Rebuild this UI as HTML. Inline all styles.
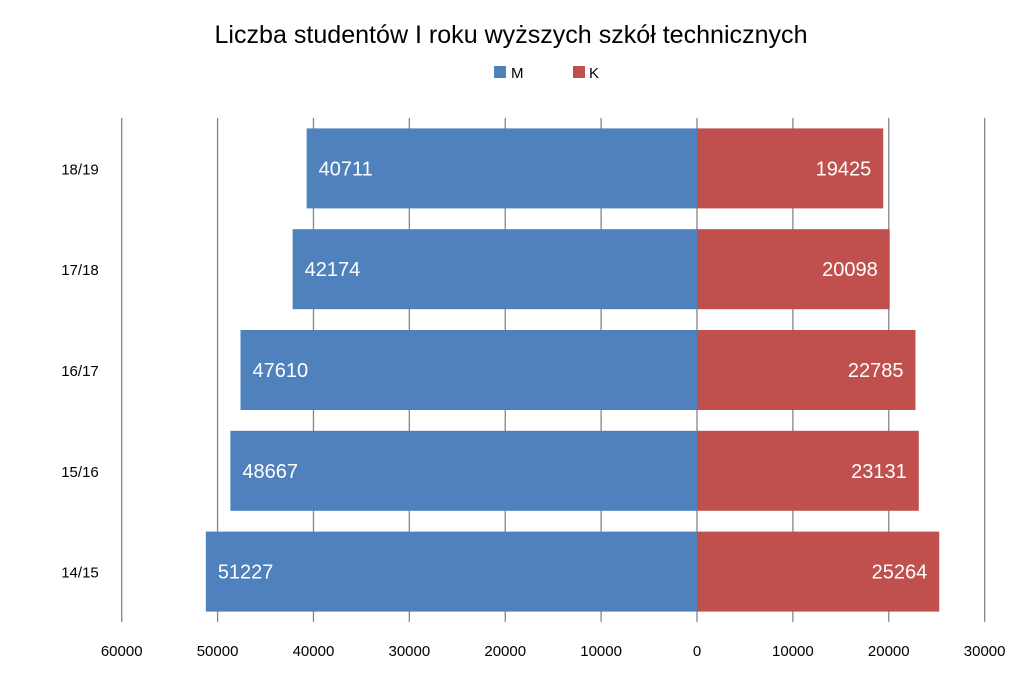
<!DOCTYPE html>
<html><head><meta charset="utf-8"><style>
body{margin:0;background:#fff;font-family:"Liberation Sans",Calibri,sans-serif}
</style></head><body>
<svg id="chart" width="1024" height="675" xmlns="http://www.w3.org/2000/svg" style="font-family:'Liberation Sans',sans-serif">
<rect width="1024" height="675" fill="#fff"/>
<text x="511" y="43" text-anchor="middle" font-size="25" textLength="593" lengthAdjust="spacingAndGlyphs" fill="#000">Liczba studentów I roku wyższych szkół technicznych</text>
<g>
<rect x="494" y="66" width="12" height="12" fill="#4f81bd"/>
<text x="511" y="78" font-size="15">M</text>
<rect x="573" y="66" width="12" height="12" fill="#c0504d"/>
<text x="589" y="78" font-size="15">K</text>
</g>
<g id="grid"></g><g id="bars"></g><g id="labels"></g>
</svg>
<script>
const categories=["18/19","17/18","16/17","15/16","14/15"];
const menValues=[40711,42174,47610,48667,51227];
const womenValues=[19425,20098,22785,23131,25264];
const tickValues=[-60000,-50000,-40000,-30000,-20000,-10000,0,10000,20000,30000];
const NS="http://www.w3.org/2000/svg";
const x0=697,pxPer=575.3/60000,plotTop=118,plotBottom=622;
const xs=v=>x0+v*pxPer;
const band=(plotBottom-plotTop)/categories.length;
const yc=i=>plotTop+band*(i+0.5);
const barH=80;
function mk(tag,attrs,parent){const e=document.createElementNS(NS,tag);for(const k in attrs)e.setAttribute(k,attrs[k]);document.getElementById(parent).appendChild(e);return e;}
tickValues.forEach(t=>{
 const l=mk('line',{x1:xs(t),x2:xs(t),y1:plotTop,y2:plotBottom,stroke:'#868686','stroke-width':1.3},'grid');
 
 
 const tx=mk('text',{x:xs(t),y:656,'text-anchor':'middle','font-size':15},'labels');
 
 
 tx.textContent=Math.abs(t);
});
categories.forEach((c,i)=>{
 const y=yc(i);
 const m=mk('rect',{x:xs(-menValues[i]),y:y-barH/2,width:xs(0)-xs(-menValues[i]),height:barH,fill:'#4f81bd'},'bars');
 
 
 const k=mk('rect',{x:xs(0),y:y-barH/2,width:xs(womenValues[i])-xs(0),height:barH,fill:'#c0504d'},'bars');
 
 
 const tm=mk('text',{x:xs(-menValues[i])+12,y:y+7,'font-size':20,fill:'#fff'},'labels');
 
 
 tm.textContent=menValues[i];
 const tk=mk('text',{x:xs(womenValues[i])-12,y:y+7,'font-size':20,fill:'#fff','text-anchor':'end'},'labels');
 
 
 tk.textContent=womenValues[i];
 const cl=mk('text',{x:80,y:y+6,'font-size':15,'text-anchor':'middle'},'labels');
 
 
 cl.textContent=c;
});
</script>
</body></html>
